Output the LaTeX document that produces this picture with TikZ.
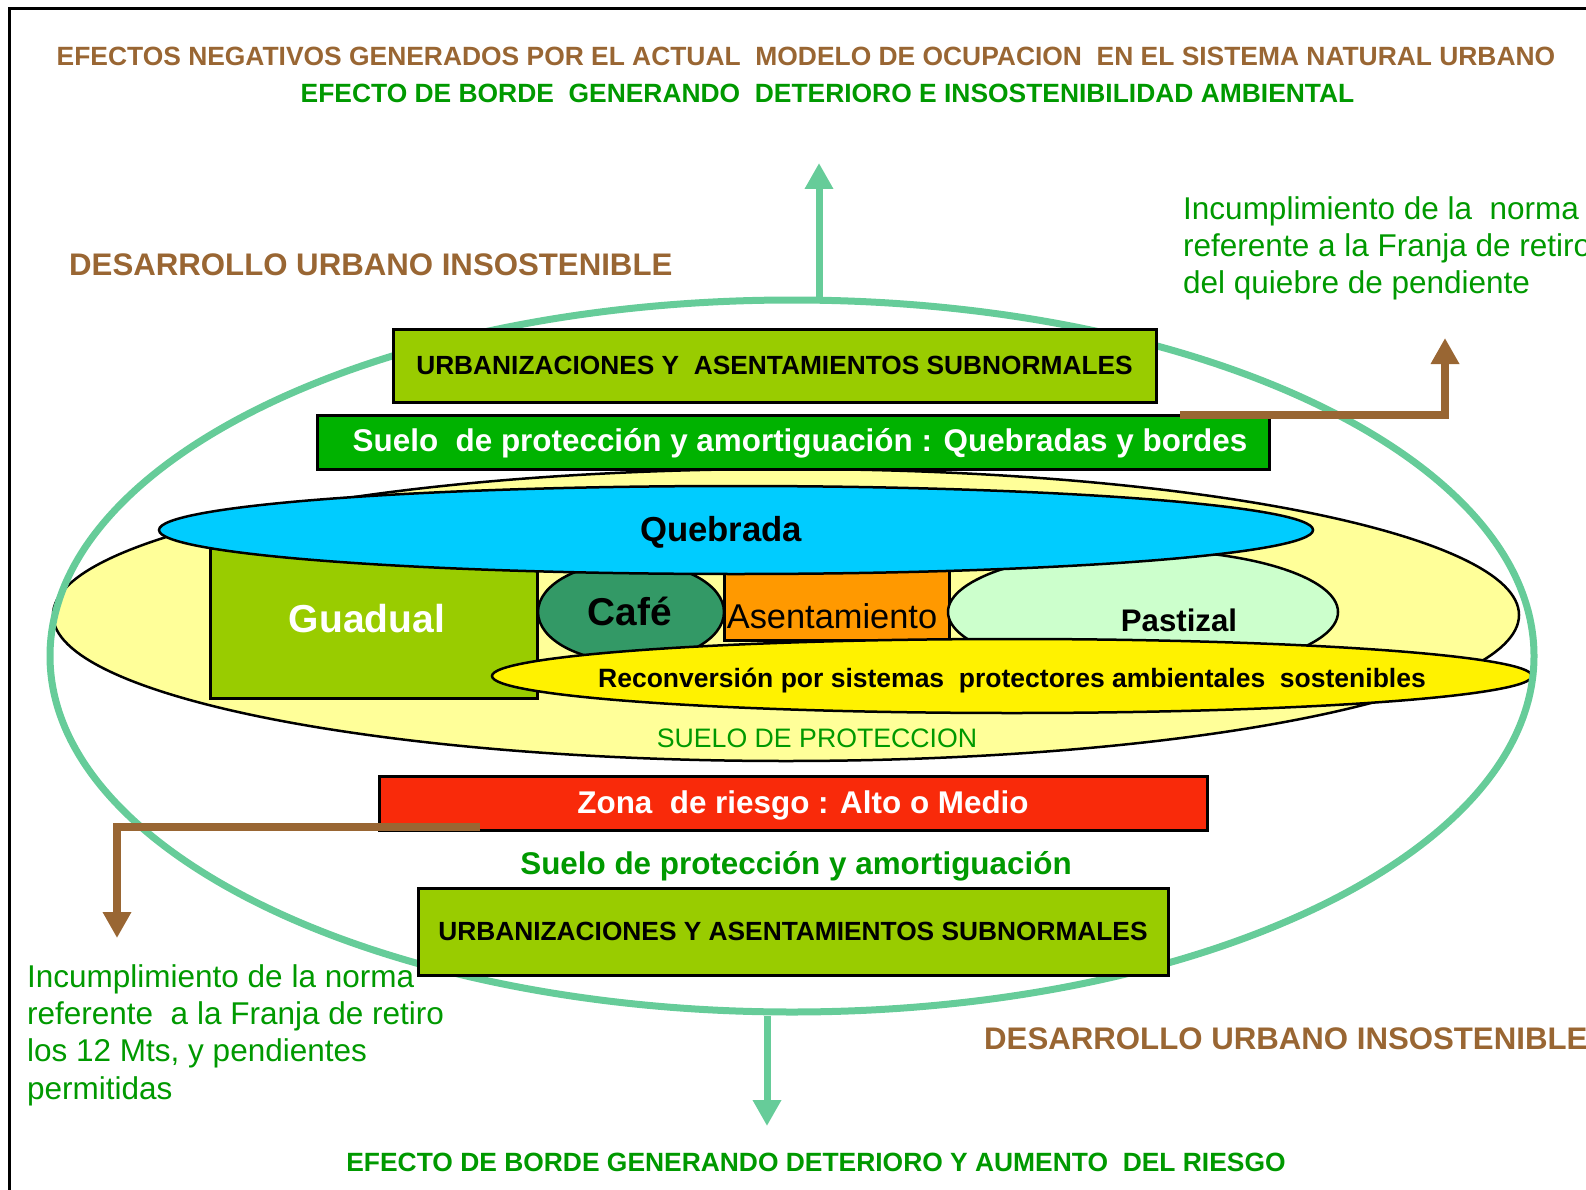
\documentclass[tikz,border=0pt]{standalone}
\usepackage{fontspec}
\setmainfont{Liberation Sans}
\usepackage{xcolor}
\usepackage{tikz}
\usetikzlibrary{arrows.meta,shapes.geometric}

\definecolor{cafetxt}{HTML}{996633}
\definecolor{verdetxt}{HTML}{009900}
\definecolor{anillo}{HTML}{66CC99}
\definecolor{oliva}{HTML}{99CC00}
\definecolor{verdecaja}{HTML}{00B200}
\definecolor{amarillopal}{HTML}{FFFF99}
\definecolor{agua}{HTML}{00CCFF}
\definecolor{cafeverde}{HTML}{339966}
\definecolor{naranja}{HTML}{FF9900}
\definecolor{pasto}{HTML}{CCFFCC}
\definecolor{rojo}{HTML}{F92A0A}

\newcommand{\pxfont}[2]{\fontsize{#1}{#2}\selectfont}

\tikzset{
  caja/.style={draw=black, line width=3pt, inner sep=0pt, rectangle},
  elip/.style={draw=black, line width=2.5pt, inner sep=0pt, ellipse},
  flechaverde/.style={draw=anillo, line width=7pt, -{Triangle[width=27pt,length=26pt]}},
  flechacafe/.style={draw=cafetxt, line width=7.5pt, -{Triangle[width=27pt,length=26pt]}},
  titulo/.style={inner sep=0pt, font=\pxfont{26.4}{30}\bfseries},
  nota/.style={inner sep=0pt, align=left, text=verdetxt, font=\pxfont{31.5}{37.4}},
}

\begin{document}
\begin{tikzpicture}[x=1pt,y=-1pt]
\useasboundingbox (0,0) rectangle (1586,1190);
\draw[line width=3pt] (9,1200) -- (9,9) -- (1600,9);

% suelo de proteccion
\node[elip, fill=amarillopal, minimum width=1466, minimum height=292] (suelo) at (786,615) {};
\node[caja, fill=oliva, minimum width=327, minimum height=152] (guadual) at (373.5,622) {};
\node[elip, fill=cafeverde, minimum width=186, minimum height=100] (cafe) at (631,612) {};
\node[caja, fill=naranja, minimum width=225, minimum height=71] (asent) at (836.5,604.5) {};
\node[elip, fill=pasto, minimum width=390, minimum height=124] (pastizal) at (1143,612) {};
\node[elip, fill=agua, minimum width=1154, minimum height=88] (quebrada) at (736,530) {};
\node[elip, fill=yellow, minimum width=1040, minimum height=74] (recon) at (1012,676) {};

\node[anchor=base, inner sep=0pt, font=\pxfont{34.7}{40}\bfseries] (tQuebrada) at (721,541) {Quebrada};
\node[anchor=base, inner sep=0pt, text=white, font=\pxfont{39}{44}\bfseries] (tGuadual) at (367,632) {Guadual};
\node[anchor=base, inner sep=0pt, font=\pxfont{38.8}{44}\bfseries] (tCafe) at (630,625) {Café};
\node[anchor=base, inner sep=0pt, font=\pxfont{34.4}{40}] (tAsent) at (832,628) {Asentamiento};
\node[anchor=base, inner sep=0pt, font=\pxfont{31.2}{36}\bfseries] (tPastizal) at (1179,631) {Pastizal};
\node[anchor=base, inner sep=0pt, font=\pxfont{26.5}{30}\bfseries] (tRecon) at (1012,687) {Reconversión por sistemas\ \ protectores ambientales\ \ sostenibles};
\node[anchor=base, inner sep=0pt, text=verdetxt, font=\pxfont{26.7}{30}] (tSuelo) at (817,747) {SUELO DE PROTECCION};

% anillo del sistema natural urbano
\node[draw=anillo, line width=7pt, ellipse, inner sep=0pt, minimum width=1484, minimum height=712] (anillo) at (792,656) {};

% franjas
\node[caja, fill=oliva, font=\pxfont{26.3}{30}\bfseries, minimum width=763, minimum height=73] (urbSup) at (774.5,365.5) {URBANIZACIONES Y\ \ ASENTAMIENTOS SUBNORMALES};
\node[caja, fill=verdecaja, minimum width=952, minimum height=54] (amortSup) at (793,442) {};
\node[anchor=base, inner sep=0pt, text=white, font=\pxfont{31.4}{36}\bfseries] (tAmortSup) at (800,451) {Suelo\ \ de protección y amortiguación : Quebradas y bordes};
\node[caja, fill=rojo, minimum width=828, minimum height=54] (riesgo) at (793,803) {};
\node[anchor=base, inner sep=0pt, text=white, font=\pxfont{31.4}{36}\bfseries] (tRiesgo) at (803,813) {Zona\ \ de riesgo : Alto o Medio};
\node[anchor=base, inner sep=0pt, text=verdetxt, font=\pxfont{31.4}{36}\bfseries] (amortInf) at (796,874) {Suelo de protección y amortiguación};
\node[caja, fill=oliva, font=\pxfont{26.3}{30}\bfseries, minimum width=750, minimum height=87] (urbInf) at (793,931.5) {URBANIZACIONES Y ASENTAMIENTOS SUBNORMALES};

% flechas
\coordinate (tipSup) at (819,163);
\draw[flechaverde] (anillo.north -| tipSup) -- (tipSup);
\coordinate (tipInf) at (767,1126);
\draw[flechaverde] (anillo.south -| tipInf) -- (tipInf);
\coordinate (iniDer) at (1180,415);
\coordinate (tipDer) at (1445,338);
\draw[flechacafe] (iniDer) -| (tipDer);
\coordinate (iniIzq) at (480,827);
\coordinate (tipIzq) at (117,938);
\draw[flechacafe] (iniIzq) -| (tipIzq);

% textos
\node[titulo, anchor=base, text=cafetxt] (tit1) at (806,65.5) {EFECTOS NEGATIVOS GENERADOS POR EL ACTUAL\ \ MODELO DE OCUPACION\ \ EN EL SISTEMA NATURAL URBANO};
\node[titulo, anchor=base, text=verdetxt] (tit2) at (827.5,103) {EFECTO DE BORDE\ \ GENERANDO\ \ DETERIORO E INSOSTENIBILIDAD AMBIENTAL};
\node[anchor=base west, inner sep=0pt, text=cafetxt, font=\pxfont{31.2}{36}\bfseries] (desSup) at (69,276) {DESARROLLO URBANO INSOSTENIBLE};
\node[nota, anchor=north west] (notaDer) at (1183,196) {Incumplimiento de la\ \ norma\\referente a la Franja de retiro\\del quiebre de pendiente};
\node[nota, anchor=north west] (notaIzq) at (27,964) {Incumplimiento de la norma\\referente\ \ a la Franja de retiro\\los 12 Mts, y pendientes\\permitidas};
\node[anchor=base west, inner sep=0pt, text=cafetxt, font=\pxfont{31.2}{36}\bfseries] (desInf) at (984,1049) {DESARROLLO URBANO INSOSTENIBLE};
\node[titulo, anchor=base, text=verdetxt] (tit3) at (816,1171) {EFECTO DE BORDE GENERANDO DETERIORO Y AUMENTO\ \ DEL RIESGO};
\end{tikzpicture}
\end{document}
